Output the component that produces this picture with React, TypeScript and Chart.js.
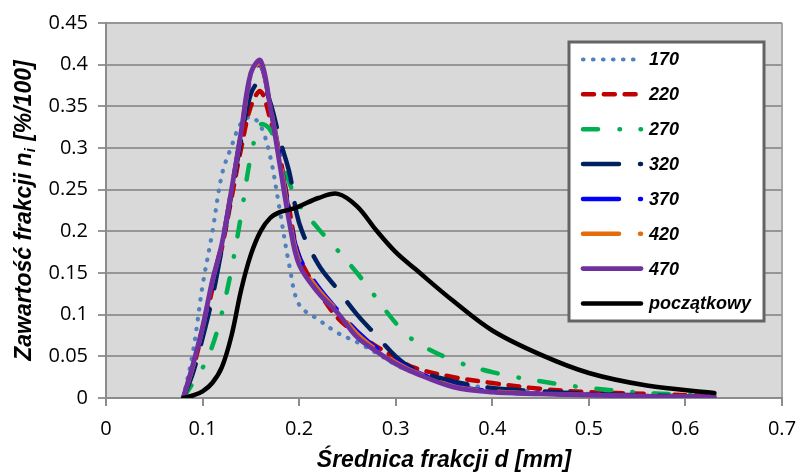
import { useEffect, useRef } from 'react';
import { Chart, registerables } from 'chart.js';

Chart.register(...registerables);

// Fraction diameter d [mm] (shared x values of all curves)
const diameters = [
  0.08, 0.09, 0.1, 0.11, 0.12, 0.13, 0.14, 0.15, 0.16, 0.17, 0.18, 0.19, 0.2,
  0.22, 0.24, 0.26, 0.28, 0.3, 0.32, 0.36, 0.4, 0.45, 0.5, 0.56, 0.63,
];

// Fraction content n_i [%/100] for each series
const s170 = [
  0, 0.055, 0.135, 0.198, 0.268, 0.302, 0.33, 0.337, 0.327, 0.29, 0.225, 0.158, 0.112,
  0.094, 0.078, 0.067, 0.054, 0.04, 0.03, 0.018, 0.012, 0.008, 0.005, 0.003, 0.001,
];
const s220 = [
  0, 0.035, 0.08, 0.13, 0.18, 0.24, 0.3, 0.35, 0.368, 0.335, 0.29, 0.225, 0.17,
  0.128, 0.096, 0.077, 0.062, 0.048, 0.036, 0.025, 0.018, 0.011, 0.007, 0.005, 0.002,
];
const s270 = [
  0, 0.018, 0.036, 0.062, 0.102, 0.155, 0.22, 0.29, 0.328, 0.322, 0.292, 0.258, 0.232,
  0.203, 0.177, 0.15, 0.12, 0.09, 0.068, 0.045, 0.031, 0.02, 0.012, 0.006, 0.003,
];
const s320 = [
  0, 0.03, 0.072, 0.12, 0.18, 0.245, 0.31, 0.365, 0.38, 0.355, 0.31, 0.27, 0.21,
  0.16, 0.13, 0.1, 0.075, 0.05, 0.034, 0.02, 0.012, 0.008, 0.005, 0.003, 0.001,
];
const s370 = [
  0, 0.038, 0.083, 0.138, 0.185, 0.25, 0.318, 0.385, 0.4, 0.35, 0.29, 0.22, 0.17,
  0.133, 0.105, 0.08, 0.06, 0.045, 0.032, 0.015, 0.008, 0.005, 0.004, 0.002, 0.001,
];
const s420 = [
  0, 0.038, 0.084, 0.139, 0.185, 0.25, 0.318, 0.387, 0.402, 0.35, 0.287, 0.215, 0.165,
  0.13, 0.104, 0.077, 0.058, 0.043, 0.031, 0.014, 0.008, 0.005, 0.0035, 0.002, 0.001,
];
const s470 = [
  0, 0.04, 0.085, 0.14, 0.185, 0.25, 0.32, 0.39, 0.405, 0.35, 0.28, 0.21, 0.16,
  0.126, 0.102, 0.073, 0.056, 0.041, 0.03, 0.013, 0.007, 0.005, 0.0035, 0.002, 0.001,
];
const sInitial = [
  0, 0.003, 0.008, 0.018, 0.037, 0.075, 0.13, 0.172, 0.2, 0.216, 0.223, 0.226, 0.23,
  0.24, 0.245, 0.23, 0.201, 0.175, 0.155, 0.116, 0.081, 0.052, 0.03, 0.015, 0.006,
];

const seriesLabels = ['170', '220', '270', '320', '370', '420', '470', 'początkowy'];
const seriesValues = [s170, s220, s270, s320, s370, s420, s470, sInitial];

// Axis ticks
const xTickValues = [0, 0.1, 0.2, 0.3, 0.4, 0.5, 0.6, 0.7];
const yTickValues = [0, 0.05, 0.1, 0.15, 0.2, 0.25, 0.3, 0.35, 0.4, 0.45];

const xTitle = 'Średnica frakcji d [mm]';
const yTitleMain = 'Zawartość frakcji n';
const yTitleSub = 'i';
const yTitleTail = ' [%/100]';

// Line styles
const seriesColors = ['#4f81bd', '#c00000', '#00b050', '#002060', '#0000ff', '#e46c0a', '#7030a0', '#000000'];
const seriesDashes: number[][] = [
  [0.5, 9.5],
  [11, 9.8],
  [15, 21.5, 0.5, 20.5],
  [36, 21],
  [36, 21],
  [36, 21],
  [],
  [],
];
const seriesWidths = [4.2, 4.5, 4.5, 4.5, 4.5, 4.5, 4.8, 4.5];

const TICK_FONT = '"Open Sans", sans-serif';
const TITLE_FONT = '"Liberation Sans", Arial, sans-serif';

const fmt = (v: number) => String(Number(v.toFixed(2)));

const decorPlugin = {
  id: 'decor',
  beforeDraw(chart: any) {
    const { ctx, chartArea: a } = chart;
    ctx.save();
    ctx.fillStyle = '#d9d9d9';
    ctx.fillRect(a.left, a.top, a.right - a.left, a.bottom - a.top);
    ctx.strokeStyle = '#a6a6a6';
    ctx.lineWidth = 2;
    ctx.beginPath();
    ctx.moveTo(a.right, a.top);
    ctx.lineTo(a.right, a.bottom);
    ctx.stroke();
    ctx.restore();
  },
  afterDraw(chart: any) {
    const { ctx, chartArea: a } = chart;
    ctx.save();

    // Legend box inside the plot area
    const bx = a.right - 213;
    const by = a.top + 19;
    const bw = 195;
    const bh = 279;
    ctx.fillStyle = '#ffffff';
    ctx.fillRect(bx, by, bw, bh);
    ctx.strokeStyle = '#646464';
    ctx.lineWidth = 3;
    ctx.strokeRect(bx, by, bw, bh);

    const rowStep = 34.85;
    chart.data.datasets.forEach((ds: any, i: number) => {
      const y = by + 17.5 + i * rowStep;
      ctx.save();
      ctx.strokeStyle = ds.borderColor;
      ctx.lineWidth = ds.borderWidth;
      ctx.lineCap = 'round';
      ctx.setLineDash(ds.borderDash || []);
      ctx.beginPath();
      ctx.moveTo(bx + 14, y);
      ctx.lineTo(bx + 72, y);
      ctx.stroke();
      ctx.restore();
      ctx.fillStyle = '#000';
      ctx.font = `italic bold 18px ${TITLE_FONT}`;
      ctx.textAlign = 'left';
      ctx.textBaseline = 'middle';
      ctx.fillText(ds.label, bx + 80, y + 1);
    });

    // X axis title
    ctx.fillStyle = '#000';
    ctx.font = `italic bold 23px ${TITLE_FONT}`;
    ctx.textAlign = 'center';
    ctx.textBaseline = 'middle';
    ctx.fillText(xTitle, (a.left + a.right) / 2, 461);

    // Y axis title with subscript
    const mainFont = `italic bold 23px ${TITLE_FONT}`;
    const subFont = `italic bold 15px ${TITLE_FONT}`;
    ctx.font = mainFont;
    const w1 = ctx.measureText(yTitleMain).width;
    const w3 = ctx.measureText(yTitleTail).width;
    ctx.font = subFont;
    const w2 = ctx.measureText(yTitleSub).width;
    const total = w1 + w2 + 1 + w3;
    ctx.translate(23, (a.top + a.bottom) / 2);
    ctx.rotate(-Math.PI / 2);
    ctx.textAlign = 'left';
    ctx.textBaseline = 'alphabetic';
    let x = -total / 2;
    ctx.font = mainFont;
    ctx.fillText(yTitleMain, x, 8);
    x += w1;
    ctx.font = subFont;
    ctx.fillText(yTitleSub, x, 12);
    x += w2 + 1;
    ctx.font = mainFont;
    ctx.fillText(yTitleTail, x, 8);

    ctx.restore();
  },
};

export default function App() {
  const canvasRef = useRef<HTMLCanvasElement | null>(null);

  useEffect(() => {
    document.body.style.margin = '0';
    const canvas = canvasRef.current;
    if (!canvas) return;

    const datasets = seriesLabels.map((label, i) => ({
      label,
      data: diameters.map((d, k) => ({ x: d, y: seriesValues[i][k] })),
      borderColor: seriesColors[i],
      backgroundColor: seriesColors[i],
      borderWidth: seriesWidths[i],
      borderDash: seriesDashes[i],
      borderCapStyle: 'round',
      borderJoinStyle: 'round',
      pointRadius: 0,
      fill: false,
      tension: 0.35,
      order: seriesLabels.length - 1 - i,
    }));

    const chart = new Chart(canvas, {
      type: 'line',
      data: { datasets } as any,
      plugins: [decorPlugin],
      options: {
        animation: false,
        responsive: false,
        devicePixelRatio: 1,
        layout: { padding: { left: 0, top: 23, right: 20, bottom: 0 } },
        plugins: {
          legend: { display: false },
          tooltip: { enabled: false },
          title: { display: false },
        },
        scales: {
          x: {
            type: 'linear',
            min: 0,
            max: 0.7,
            afterFit: (s: any) => {
              s.height = 77;
              s.paddingLeft = 0;
              s.paddingRight = 0;
            },
            afterBuildTicks: (s: any) => {
              s.ticks = xTickValues.map((v) => ({ value: v }));
            },
            grid: {
              drawOnChartArea: false,
              drawTicks: true,
              tickLength: 8,
              color: '#8c8c8c',
              lineWidth: 2,
            },
            border: { display: true, color: '#8c8c8c', width: 2 },
            ticks: {
              color: '#000',
              font: { family: TICK_FONT, size: 20 },
              padding: 11,
              maxRotation: 0,
              callback: (v: any) => fmt(Number(v)),
            },
          },
          y: {
            type: 'linear',
            min: 0,
            max: 0.45,
            afterFit: (s: any) => {
              s.width = 106;
              s.paddingTop = 0;
              s.paddingBottom = 0;
            },
            afterBuildTicks: (s: any) => {
              s.ticks = yTickValues.map((v) => ({ value: v }));
            },
            grid: {
              drawOnChartArea: true,
              drawTicks: true,
              tickLength: 8,
              color: '#969696',
              lineWidth: 2,
            },
            border: { display: true, color: '#8c8c8c', width: 2 },
            ticks: {
              color: '#000',
              font: { family: TICK_FONT, size: 20 },
              padding: 10,
              callback: (v: any) => fmt(Number(v)),
            },
          },
        },
      } as any,
    });

    return () => chart.destroy();
  }, []);

  return (
    <div style={{ width: 802, height: 475 }}>
      <canvas ref={canvasRef} width={802} height={475} style={{ display: 'block', width: 802, height: 475 }} />
    </div>
  );
}
